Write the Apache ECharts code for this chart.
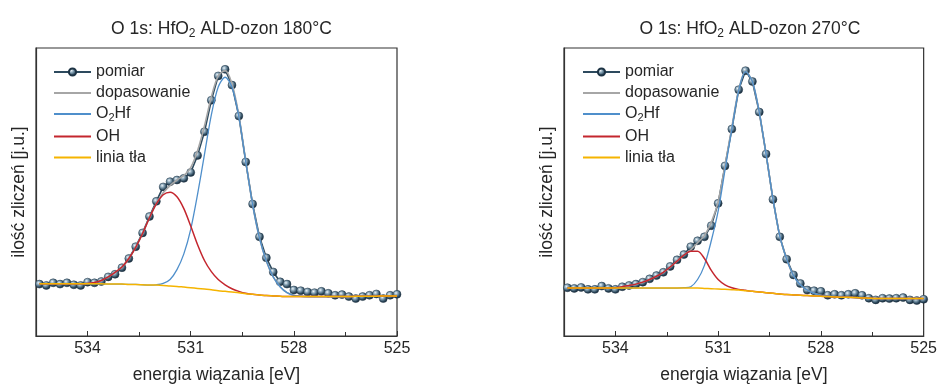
<!DOCTYPE html>
<html>
<head>
<meta charset="utf-8">
<script src="https://cdn.jsdelivr.net/npm/echarts@6/dist/echarts.min.js"></script>
<style>
html,body{margin:0;padding:0;background:#fff;}
#chart{width:940px;height:389px;}
</style>
</head>
<body>
<div id="chart"></div>
<script>
// Binding energy grid (eV), 535.4 -> 525.0, step 0.2
var energy = [535.4,535.2,535.0,534.8,534.6,534.4,534.2,534.0,533.8,533.6,533.4,533.2,533.0,532.8,532.6,532.4,532.2,532.0,531.8,531.6,531.4,531.2,531.0,530.8,530.6,530.4,530.2,530.0,529.8,529.6,529.4,529.2,529.0,528.8,528.6,528.4,528.2,528.0,527.8,527.6,527.4,527.2,527.0,526.8,526.6,526.4,526.2,526.0,525.8,525.6,525.4,525.2,525.0];

var titles = ['O 1s: HfO{sub|2} ALD-ozon 180°C', 'O 1s: HfO{sub|2} ALD-ozon 270°C'];
var seriesNames = ['pomiar', 'dopasowanie', 'O2Hf', 'OH', 'linia tła'];
var xTicks = [534, 531, 528, 525];

// ---- Panel 1: 180°C ----
var measured180 = [158,154,162,158,162,156,154,164,162,166,180,188,208,236,272,314,364,410,454,470,475,480,498,550,622,718,792,812,764,670,530,402,302,238,195,165,158,140,138,134,132,136,130,124,126,120,114,120,124,128,114,124,127];
var fit180 = [159,159,159,159,159,159,159,160,163,169,180,194,210,236,270,312,360,403,436,458,475,489,513,565,640,728,792,808,768,672,533,400,298,228,180,150,132,124,121,120,120,120,120,120,120,120,121,121,121,121,122,122,122];
var hf180 = [159,159,159,159,159,159,159,159,159,159,158,158,158,157,157,156,155,156,160,172,202,250,325,432,553,673,758,788,758,668,532,400,298,228,180,150,132,124,121,120,120,120,120,120,120,120,121,121,121,121,122,122,122];
var oh180 = [159,159,159,159,159,159,159,160,163,169,180,194,210,236,270,312,360,402,430,438,424,388,335,278,230,196,172,156,144,136,130,127,125,123,122,121,120,120,120,120,120,120,120,120,120,120,121,121,121,121,122,122,122];
var bg180 = [159,159,159,159,159,159,159,159,159,159,158,158,158,157,157,156,155,155,154,152,151,149,147,145,143,141,138,136,134,132,129,127,125,123,122,121,120,120,120,120,120,120,120,120,120,120,121,121,121,121,122,122,122];

// ---- Panel 2: 270°C ----
var measured270 = [147,145,148,142,142,152,145,142,150,154,158,164,174,184,194,212,232,248,272,290,302,336,404,518,630,750,808,775,682,554,416,302,234,186,160,140,138,136,124,127,124,127,130,124,115,110,115,114,115,117,110,108,112];
var fit270 = [146,146,146,146,146,146,146,147,150,154,158,164,172,182,194,210,228,247,262,284,306,346,409,519,636,750,806,775,682,554,418,304,234,184,156,140,130,124,121,119,118,118,117,116,115,114,114,114,114,114,114,114,114];
var hf270 = [146,146,146,146,146,146,146,146,146,146,146,146,146,146,146,146,146,147,150,172,215,290,380,505,630,748,805,775,682,554,418,304,234,184,156,140,130,124,121,119,118,118,117,116,115,114,114,114,114,114,114,114,114];
var oh270 = [146,146,146,146,146,146,146,147,150,154,158,164,172,182,194,210,228,246,258,258,236,200,172,156,147,142,139,136,134,132,130,128,126,125,124,123,122,121,120,119,118,118,117,116,115,114,114,114,114,114,114,114,114];
var bg270 = [146,146,146,146,146,146,146,146,146,146,146,146,146,146,146,146,146,146,146,146,145,144,143,142,141,140,138,136,134,132,130,128,126,125,124,123,122,121,120,119,118,118,117,116,115,114,114,114,114,114,114,114,114];

var panels = [
  {measured: measured180, fit: fit180, hf: hf180, oh: oh180, bg: bg180},
  {measured: measured270, fit: fit270, hf: hf270, oh: oh270, bg: bg270}
];

var grids = [
  {left: 36, top: 48, width: 361, height: 292, legendLeft: 53},
  {left: 564, top: 48, width: 362, height: 292, legendLeft: 582}
];

var colors = {
  data: '#2d4a5e',
  fit: '#a6a6a6',
  hf: '#4f8fcb',
  oh: '#c4262e',
  bg: '#f5b400'
};

var ball = {
  type: 'radial', x: 0.38, y: 0.35, r: 0.7,
  colorStops: [
    {offset: 0, color: '#eef4f8'},
    {offset: 0.3, color: '#8da9bb'},
    {offset: 0.7, color: '#2e4a5e'},
    {offset: 1, color: '#14222e'}
  ]
};

function pairs(arr) {
  return energy.map(function (e, i) { return [e, arr[i]]; });
}

var textColor = '#262626';
var fontFam = '"Liberation Sans", Arial, sans-serif';

var option = {
  animation: false,
  backgroundColor: '#fff',
  title: [],
  legend: [],
  grid: [],
  xAxis: [],
  yAxis: [],
  series: []
};

panels.forEach(function (p, k) {
  var g = grids[k];
  var suffix = k ? ' ' : '';
  option.grid.push({
    left: g.left, top: g.top, width: g.width, height: g.height,
    show: true, borderColor: '#333', borderWidth: 1.2, backgroundColor: 'transparent',
    containLabel: false
  });
  option.title.push({
    text: titles[k],
    left: g.left + g.width / 2, top: 14, textAlign: 'center',
    textStyle: {
      fontFamily: fontFam, fontSize: 17.5, fontWeight: 'normal', color: textColor,
      rich: {sub: {fontFamily: fontFam, fontSize: 12, color: textColor, verticalAlign: 'bottom', padding: [9, 0, 0, 0]}}
    }
  });
  option.legend.push({
    orient: 'vertical',
    left: g.legendLeft, top: 64, padding: 0,
    itemWidth: 37, itemHeight: 9, itemGap: 5,
    data: seriesNames.map(function (n, i) {
      var d = {name: n + suffix};
      if (i > 0) d.itemStyle = {opacity: 0};
      return d;
    }),
    formatter: function (name) {
      var n = name.trim();
      return n === 'O2Hf' ? 'O{sub|2}Hf' : n;
    },
    textStyle: {
      fontFamily: fontFam, fontSize: 16, color: textColor,
      rich: {sub: {fontFamily: fontFam, fontSize: 11, color: textColor, verticalAlign: 'bottom', padding: [8, 0, 0, 0]}}
    },
    selectedMode: false
  });
  option.xAxis.push({
    type: 'value', gridIndex: k, inverse: true,
    min: 525, max: 535.5, interval: 3,
    name: 'energia wiązania [eV]', nameLocation: 'middle', nameGap: 30,
    nameTextStyle: {fontFamily: fontFam, fontSize: 17.5, color: textColor},
    axisLine: {show: true, lineStyle: {color: '#333', width: 1.2}},
    axisTick: {show: true, inside: true, length: 5, lineStyle: {color: '#333', width: 1}},
    minorTick: {show: true, splitNumber: 2, length: 4, lineStyle: {color: '#333', width: 1}},
    axisLabel: {
      fontFamily: fontFam, fontSize: 16, color: textColor, margin: 5,
      showMaxLabel: false,
      formatter: function (v) { return xTicks.indexOf(v) >= 0 ? String(v) : ''; }
    },
    splitLine: {show: false}
  });
  option.yAxis.push({
    type: 'value', gridIndex: k, min: 0, max: 877,
    name: 'ilość zliczeń [j.u.]', nameLocation: 'middle', nameGap: 8,
    nameTextStyle: {fontFamily: fontFam, fontSize: 17.5, color: textColor},
    axisLine: {show: true, lineStyle: {color: '#333', width: 1.2}},
    axisTick: {show: false}, axisLabel: {show: false}, splitLine: {show: false}
  });
  option.series.push({
    name: 'pomiar' + suffix, type: 'line', xAxisIndex: k, yAxisIndex: k,
    data: pairs(p.measured), symbol: 'circle', symbolSize: 8, showAllSymbol: true,
    lineStyle: {color: colors.data, width: 1.6},
    itemStyle: {color: ball, borderColor: '#1d3344', borderWidth: 0.5},
    z: 2
  });
  option.series.push({
    name: 'dopasowanie' + suffix, type: 'line', xAxisIndex: k, yAxisIndex: k,
    data: pairs(p.fit), symbol: 'none', smooth: 0.3,
    lineStyle: {color: colors.fit, width: 1.6}, itemStyle: {color: colors.fit}, z: 3
  });
  option.series.push({
    name: 'O2Hf' + suffix, type: 'line', xAxisIndex: k, yAxisIndex: k,
    data: pairs(p.hf), symbol: 'none', smooth: 0.3,
    lineStyle: {color: colors.hf, width: 1.3}, itemStyle: {color: colors.hf}, z: 4
  });
  option.series.push({
    name: 'OH' + suffix, type: 'line', xAxisIndex: k, yAxisIndex: k,
    data: pairs(p.oh), symbol: 'none', smooth: 0.3,
    lineStyle: {color: colors.oh, width: 1.5}, itemStyle: {color: colors.oh}, z: 5
  });
  option.series.push({
    name: 'linia tła' + suffix, type: 'line', xAxisIndex: k, yAxisIndex: k,
    data: pairs(p.bg), symbol: 'none', smooth: 0.3,
    lineStyle: {color: colors.bg, width: 1.5}, itemStyle: {color: colors.bg}, z: 6
  });
});

var chart = echarts.init(document.getElementById('chart'), null, {renderer: 'canvas'});
chart.setOption(option);
</script>
</body>
</html>
